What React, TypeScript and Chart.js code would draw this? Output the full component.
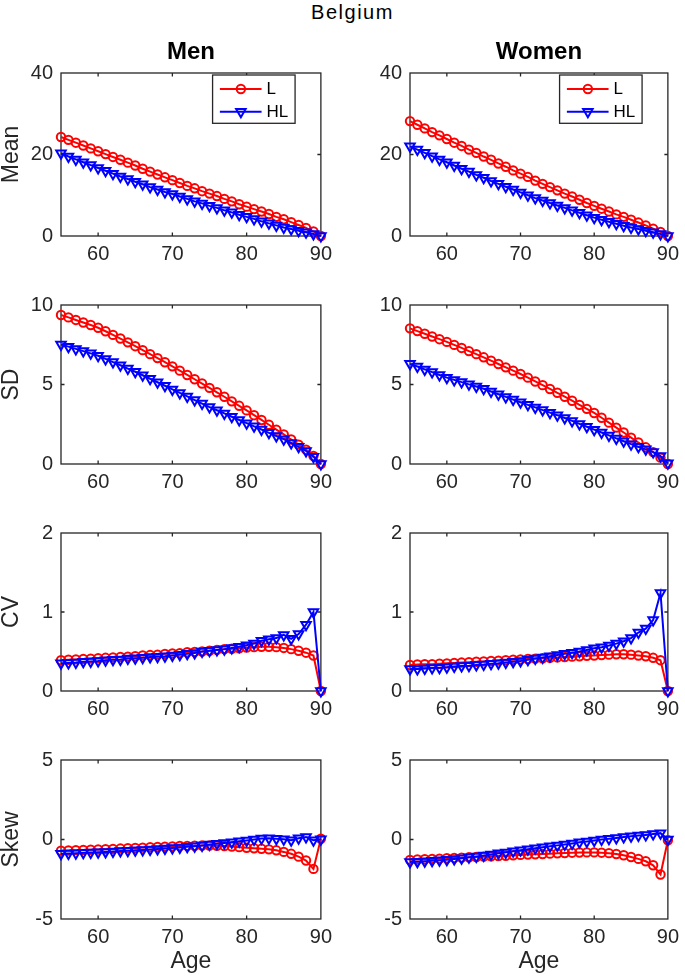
import React, { useEffect, useRef } from 'react';
import { Chart, registerables } from 'chart.js';

Chart.register(...registerables);

const FONT = "'Liberation Sans', Arial, Helvetica, sans-serif";
const AXIS_COLOR = '#262626';

// ---------- data ----------
const AGES = [55, 56, 57, 58, 59, 60, 61, 62, 63, 64, 65, 66, 67, 68, 69, 70, 71, 72, 73, 74, 75, 76, 77, 78, 79, 80, 81, 82, 83, 84, 85, 86, 87, 88, 89, 90];
const X_TICKS = [60, 70, 80, 90];
const SERIES_LABELS = ['L', 'HL'];
const COLUMN_TITLES = ['Men', 'Women'];
const ROW_LABELS = ['Mean', 'SD', 'CV', 'Skew'];
const FIGURE_TITLE = 'Belgium';

const MEAN_TICKS = [0, 20, 40];
const SD_TICKS = [0, 5, 10];
const CV_TICKS = [0, 1, 2];
const SKEW_TICKS = [-5, 0, 5];

const MEAN_MEN_L = [24.3, 23.6, 22.9, 22.2, 21.5, 20.8, 20.1, 19.4, 18.7, 18.0, 17.3, 16.5, 15.8, 15.1, 14.4, 13.7, 13.0, 12.3, 11.7, 11.0, 10.4, 9.8, 9.1, 8.5, 7.8, 7.2, 6.6, 6.0, 5.4, 4.7, 4.1, 3.4, 2.7, 2.0, 1.1, 0.0];
const MEAN_MEN_HL = [20.3, 19.5, 18.8, 18.1, 17.4, 16.7, 16.0, 15.3, 14.6, 14.0, 13.3, 12.7, 12.0, 11.4, 10.8, 10.3, 9.7, 9.1, 8.5, 8.0, 7.4, 6.9, 6.3, 5.8, 5.2, 4.7, 4.2, 3.6, 3.1, 2.6, 2.1, 1.7, 1.3, 0.9, 0.5, 0.0];
const MEAN_WOMEN_L = [28.2, 27.3, 26.4, 25.5, 24.7, 23.8, 22.9, 22.1, 21.2, 20.4, 19.5, 18.7, 17.8, 17.0, 16.1, 15.3, 14.5, 13.6, 12.8, 12.0, 11.2, 10.4, 9.7, 8.9, 8.1, 7.4, 6.7, 6.0, 5.3, 4.7, 4.0, 3.3, 2.6, 1.8, 1.0, 0.0];
const MEAN_WOMEN_HL = [22.0, 21.2, 20.4, 19.6, 18.8, 18.1, 17.3, 16.5, 15.8, 15.0, 14.3, 13.5, 12.8, 12.1, 11.4, 10.7, 10.0, 9.3, 8.7, 8.1, 7.5, 6.9, 6.3, 5.7, 5.1, 4.5, 4.0, 3.5, 3.0, 2.5, 2.1, 1.7, 1.3, 0.9, 0.5, 0.0];

const SD_MEN_L = [9.37, 9.22, 9.06, 8.9, 8.74, 8.57, 8.35, 8.12, 7.89, 7.65, 7.41, 7.16, 6.91, 6.66, 6.4, 6.14, 5.87, 5.6, 5.33, 5.06, 4.79, 4.51, 4.23, 3.94, 3.66, 3.37, 3.07, 2.77, 2.47, 2.16, 1.86, 1.54, 1.22, 0.9, 0.5, 0.0];
const SD_MEN_HL = [7.52, 7.38, 7.24, 7.1, 6.96, 6.81, 6.61, 6.41, 6.21, 6.0, 5.8, 5.58, 5.36, 5.14, 4.92, 4.69, 4.47, 4.25, 4.02, 3.8, 3.58, 3.38, 3.18, 2.97, 2.77, 2.57, 2.37, 2.17, 1.96, 1.76, 1.56, 1.32, 1.08, 0.82, 0.45, 0.0];
const SD_WOMEN_L = [8.53, 8.36, 8.19, 8.02, 7.85, 7.68, 7.49, 7.3, 7.1, 6.91, 6.71, 6.5, 6.29, 6.08, 5.87, 5.66, 5.43, 5.19, 4.96, 4.72, 4.48, 4.23, 3.98, 3.72, 3.47, 3.21, 2.91, 2.6, 2.29, 1.98, 1.66, 1.35, 1.05, 0.75, 0.4, 0.0];
const SD_WOMEN_HL = [6.3, 6.13, 5.95, 5.78, 5.6, 5.43, 5.29, 5.15, 5.01, 4.87, 4.73, 4.56, 4.39, 4.22, 4.05, 3.88, 3.72, 3.56, 3.39, 3.23, 3.07, 2.89, 2.71, 2.52, 2.34, 2.16, 1.98, 1.8, 1.61, 1.43, 1.25, 1.08, 0.92, 0.75, 0.5, 0.05];

const CV_MEN_L = [0.39, 0.395, 0.4, 0.405, 0.41, 0.415, 0.42, 0.425, 0.43, 0.435, 0.44, 0.45, 0.455, 0.46, 0.47, 0.475, 0.48, 0.49, 0.495, 0.5, 0.51, 0.52, 0.53, 0.535, 0.54, 0.55, 0.555, 0.56, 0.56, 0.555, 0.545, 0.53, 0.51, 0.485, 0.45, 0.0];
const CV_MEN_HL = [0.35, 0.355, 0.36, 0.37, 0.375, 0.38, 0.39, 0.395, 0.4, 0.41, 0.415, 0.42, 0.43, 0.435, 0.44, 0.45, 0.46, 0.47, 0.48, 0.5, 0.51, 0.52, 0.53, 0.545, 0.56, 0.58, 0.6, 0.635, 0.655, 0.67, 0.71, 0.66, 0.72, 0.84, 1.0, 0.0];
const CV_WOMEN_L = [0.33, 0.335, 0.34, 0.34, 0.345, 0.35, 0.355, 0.36, 0.365, 0.37, 0.375, 0.38, 0.385, 0.39, 0.395, 0.4, 0.405, 0.41, 0.415, 0.42, 0.425, 0.43, 0.435, 0.44, 0.445, 0.45, 0.455, 0.46, 0.465, 0.465, 0.46, 0.45, 0.44, 0.42, 0.39, 0.0];
const CV_WOMEN_HL = [0.28, 0.28, 0.285, 0.29, 0.295, 0.3, 0.31, 0.315, 0.32, 0.33, 0.335, 0.345, 0.35, 0.36, 0.37, 0.38, 0.395, 0.41, 0.425, 0.44, 0.455, 0.47, 0.485, 0.5, 0.52, 0.54, 0.555, 0.575, 0.6, 0.63, 0.67, 0.74, 0.79, 0.9, 1.24, 0.0];

const SKEW_MEN_L = [-0.7, -0.69, -0.67, -0.66, -0.64, -0.63, -0.61, -0.59, -0.57, -0.55, -0.53, -0.51, -0.49, -0.47, -0.45, -0.43, -0.41, -0.4, -0.39, -0.38, -0.38, -0.39, -0.41, -0.44, -0.48, -0.52, -0.55, -0.58, -0.62, -0.68, -0.78, -0.9, -1.08, -1.32, -1.85, 0.05];
const SKEW_MEN_HL = [-0.9, -0.88, -0.86, -0.84, -0.82, -0.8, -0.78, -0.76, -0.73, -0.71, -0.68, -0.66, -0.63, -0.6, -0.57, -0.54, -0.5, -0.46, -0.42, -0.37, -0.32, -0.27, -0.22, -0.17, -0.11, -0.06, 0.0, 0.06, 0.08, 0.05, 0.02, -0.04, 0.08, 0.15, -0.05, 0.02];
const SKEW_WOMEN_L = [-1.28, -1.26, -1.24, -1.22, -1.2, -1.18, -1.16, -1.14, -1.12, -1.1, -1.08, -1.06, -1.04, -1.02, -0.99, -0.97, -0.95, -0.93, -0.91, -0.89, -0.87, -0.85, -0.83, -0.82, -0.81, -0.81, -0.83, -0.86, -0.91, -0.99, -1.1, -1.22, -1.37, -1.62, -2.2, -0.05];
const SKEW_WOMEN_HL = [-1.42, -1.4, -1.37, -1.34, -1.31, -1.28, -1.23, -1.18, -1.12, -1.07, -1.01, -0.94, -0.87, -0.81, -0.74, -0.67, -0.61, -0.55, -0.49, -0.43, -0.37, -0.31, -0.25, -0.18, -0.12, -0.06, 0.0, 0.05, 0.1, 0.15, 0.2, 0.25, 0.29, 0.34, 0.4, 0.0];

// ---------- layout (pixels) ----------
const COL_LEFT = [0, 349];
const COL_WIDTH = [338, 336];
const ROW_PLOT_TOP = [73, 299, 527, 754];
const ROW_PLOT_BOTTOM = [236, 464, 691, 919];
const Y_AXIS_W = 61;
const PAD_RIGHT = 12;

type PanelDef = {
  row: number;
  col: number;
  l: number[];
  hl: number[];
  ticks: number[];
};

const PANELS: PanelDef[] = [
  { row: 0, col: 0, l: MEAN_MEN_L, hl: MEAN_MEN_HL, ticks: MEAN_TICKS },
  { row: 0, col: 1, l: MEAN_WOMEN_L, hl: MEAN_WOMEN_HL, ticks: MEAN_TICKS },
  { row: 1, col: 0, l: SD_MEN_L, hl: SD_MEN_HL, ticks: SD_TICKS },
  { row: 1, col: 1, l: SD_WOMEN_L, hl: SD_WOMEN_HL, ticks: SD_TICKS },
  { row: 2, col: 0, l: CV_MEN_L, hl: CV_MEN_HL, ticks: CV_TICKS },
  { row: 2, col: 1, l: CV_WOMEN_L, hl: CV_WOMEN_HL, ticks: CV_TICKS },
  { row: 3, col: 0, l: SKEW_MEN_L, hl: SKEW_MEN_HL, ticks: SKEW_TICKS },
  { row: 3, col: 1, l: SKEW_WOMEN_L, hl: SKEW_WOMEN_HL, ticks: SKEW_TICKS },
];

function drawMarker(ctx: CanvasRenderingContext2D, style: string, x: number, y: number, r: number) {
  ctx.beginPath();
  if (style === 'circle') {
    ctx.arc(x, y, r, 0, Math.PI * 2);
  } else {
    const s = Math.sin(Math.PI / 3) * r;
    const c = Math.cos(Math.PI / 3) * r;
    ctx.moveTo(x, y + r);
    ctx.lineTo(x - s, y - c);
    ctx.lineTo(x + s, y - c);
    ctx.closePath();
  }
  ctx.stroke();
}

function Panel({ def }: { def: PanelDef }) {
  const ref = useRef<HTMLCanvasElement | null>(null);
  const { row, col } = def;
  const plotTop = ROW_PLOT_TOP[row];
  const plotBottom = ROW_PLOT_BOTTOM[row];
  const padTop = row === 0 ? 43 : 14;
  const canvasTop = plotTop - padTop;
  const canvasBottom = row === 3 ? 976 : plotBottom + 36;
  const canvasH = canvasBottom - canvasTop;
  const xAxisH = canvasBottom - plotBottom;
  const left = COL_LEFT[col];
  const width = COL_WIDTH[col];
  const showTitle = row === 0;
  const showLegend = row === 0;
  const showAge = row === 3;
  const showYLabel = col === 0;

  useEffect(() => {
    if (!ref.current) return;
    const yMin = def.ticks[0];
    const yMax = def.ticks[def.ticks.length - 1];

    const framePlugin = {
      id: 'frame',
      beforeDatasetsDraw(chart: any) {
        const { ctx, chartArea } = chart;
        const { left: l, right: r, top: t, bottom: b } = chartArea;
        const xs = chart.scales.x;
        const ys = chart.scales.y;
        ctx.save();
        ctx.strokeStyle = AXIS_COLOR;
        ctx.lineWidth = 1.3;
        ctx.strokeRect(l, t, r - l, b - t);
        const tl = 3.5;
        ctx.beginPath();
        xs.ticks.forEach((tk: any) => {
          const px = xs.getPixelForValue(tk.value);
          if (px <= l + 1 || px >= r - 1) return;
          ctx.moveTo(px, b);
          ctx.lineTo(px, b - tl);
          ctx.moveTo(px, t);
          ctx.lineTo(px, t + tl);
        });
        ys.ticks.forEach((tk: any) => {
          const py = ys.getPixelForValue(tk.value);
          if (py <= t + 1 || py >= b - 1) return;
          ctx.moveTo(l, py);
          ctx.lineTo(l + tl, py);
          ctx.moveTo(r, py);
          ctx.lineTo(r - tl, py);
        });
        ctx.stroke();
        if (showTitle) {
          ctx.fillStyle = '#000';
          ctx.font = `bold 24px ${FONT}`;
          ctx.textAlign = 'center';
          ctx.textBaseline = 'middle';
          ctx.fillText(COLUMN_TITLES[col], (l + r) / 2, t - 21);
        }
        ctx.restore();
      },
      afterDatasetsDraw(chart: any) {
        if (!showLegend) return;
        const { ctx, chartArea } = chart;
        const bx = chartArea.right - 108.3;
        const by = chartArea.top + 2;
        const bw = 82.5;
        const bh = 48.3;
        ctx.save();
        ctx.fillStyle = '#fff';
        ctx.fillRect(bx, by, bw, bh);
        ctx.strokeStyle = AXIS_COLOR;
        ctx.lineWidth = 1.3;
        ctx.strokeRect(bx, by, bw, bh);
        chart.data.datasets.forEach((ds: any, i: number) => {
          const cy = by + (i === 0 ? 14 : 36.7);
          ctx.strokeStyle = ds.borderColor;
          ctx.lineWidth = ds.borderWidth;
          ctx.beginPath();
          ctx.moveTo(bx + 7.3, cy);
          ctx.lineTo(bx + 49, cy);
          ctx.stroke();
          ctx.lineWidth = ds.pointBorderWidth;
          drawMarker(ctx, ds.pointStyle, bx + 28.3, cy, ds.pointRadius);
          ctx.fillStyle = '#000';
          ctx.font = `17px ${FONT}`;
          ctx.textAlign = 'left';
          ctx.textBaseline = 'middle';
          ctx.fillText(ds.label, bx + 54, cy + 0.5);
        });
        ctx.restore();
      },
    };

    const chart = new Chart(ref.current, {
      type: 'line',
      data: {
        datasets: [
          {
            label: SERIES_LABELS[0],
            data: AGES.map((a, i) => ({ x: a, y: def.l[i] })),
            borderColor: '#ff0000',
            backgroundColor: 'rgba(0,0,0,0)',
            borderWidth: 2,
            pointStyle: 'circle',
            pointRadius: 4.2,
            pointBorderWidth: 2,
            pointBackgroundColor: 'rgba(0,0,0,0)',
            pointBorderColor: '#ff0000',
            tension: 0,
            clip: false,
            order: 2,
          } as any,
          {
            label: SERIES_LABELS[1],
            data: AGES.map((a, i) => ({ x: a, y: def.hl[i] })),
            borderColor: '#0000ff',
            backgroundColor: 'rgba(0,0,0,0)',
            borderWidth: 2,
            pointStyle: 'triangle',
            pointRotation: 180,
            pointRadius: 5.5,
            pointBorderWidth: 2,
            pointBackgroundColor: 'rgba(0,0,0,0)',
            pointBorderColor: '#0000ff',
            tension: 0,
            clip: false,
            order: 1,
          } as any,
        ],
      },
      options: {
        animation: false,
        responsive: false,
        maintainAspectRatio: false,
        devicePixelRatio: 1,
        events: [],
        layout: { padding: { left: 0, right: PAD_RIGHT, top: padTop, bottom: 0 } },
        plugins: {
          legend: { display: false },
          tooltip: { enabled: false },
          title: { display: false },
        },
        scales: {
          x: {
            type: 'linear',
            min: AGES[0],
            max: AGES[AGES.length - 1],
            afterBuildTicks: (s: any) => {
              s.ticks = X_TICKS.map((v) => ({ value: v }));
            },
            afterFit: (s: any) => {
              s.height = xAxisH;
            },
            grid: { display: false, drawTicks: false, tickLength: 0 },
            border: { display: false },
            ticks: {
              padding: 6,
              color: AXIS_COLOR,
              font: { family: FONT, size: 20 },
              maxRotation: 0,
              autoSkip: false,
            },
            title: {
              display: showAge,
              text: 'Age',
              color: AXIS_COLOR,
              font: { family: FONT, size: 23, lineHeight: 1 },
              padding: { top: 0, bottom: 3 },
            },
          },
          y: {
            type: 'linear',
            min: yMin,
            max: yMax,
            afterBuildTicks: (s: any) => {
              s.ticks = def.ticks.map((v) => ({ value: v }));
            },
            afterFit: (s: any) => {
              s.width = Y_AXIS_W;
            },
            grid: { display: false, drawTicks: false, tickLength: 0 },
            border: { display: false },
            ticks: {
              padding: 8,
              color: AXIS_COLOR,
              font: { family: FONT, size: 20 },
              autoSkip: false,
            },
            title: {
              display: showYLabel,
              text: ROW_LABELS[row],
              color: AXIS_COLOR,
              font: { family: FONT, size: 23, lineHeight: 1 },
              padding: { top: 0, bottom: 0 },
            },
          },
        },
      } as any,
      plugins: [framePlugin],
    });
    return () => chart.destroy();
  }, []);

  return (
    <canvas
      ref={ref}
      width={width}
      height={canvasH}
      style={{ position: 'absolute', left, top: canvasTop, width, height: canvasH }}
    />
  );
}

export default function App() {
  return (
    <div style={{ position: 'absolute', left: 0, top: 0, width: 685, height: 976, background: '#fff', overflow: 'hidden' }}>
      <div
        style={{
          position: 'absolute',
          left: 20,
          top: 2,
          width: 665,
          textAlign: 'center',
          fontFamily: FONT,
          fontSize: 20,
          lineHeight: '20px',
          letterSpacing: '1.5px',
          color: '#000',
        }}
      >
        {FIGURE_TITLE}
      </div>
      {PANELS.map((p, i) => (
        <Panel key={i} def={p} />
      ))}
    </div>
  );
}
